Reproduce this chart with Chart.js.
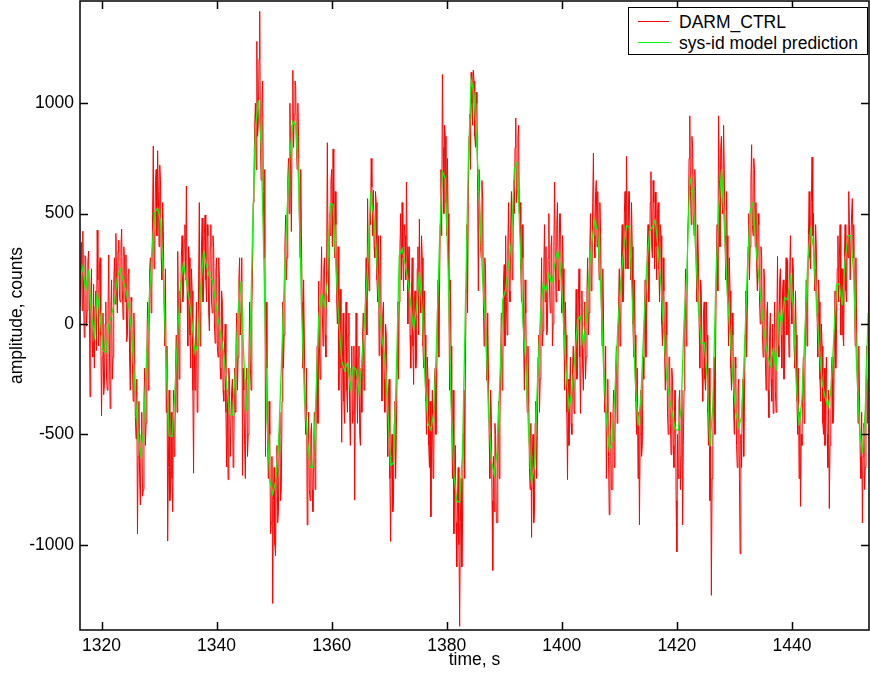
<!DOCTYPE html>
<html>
<head>
<meta charset="utf-8">
<script src="https://cdn.jsdelivr.net/npm/chart.js@4.4.1/dist/chart.umd.min.js"></script>
<style>
  html, body { margin: 0; padding: 0; background: #fff; }
  #wrap { position: relative; width: 870px; height: 679px; }
  #legend {
    position: absolute; left: 628px; top: 7px; width: 238px; height: 46px;
    border: 1.5px solid #000; background: #fff;
    font: 17.5px 'Liberation Sans', Arial, Helvetica, sans-serif; color: #000;
  }
  .item { position: absolute; left: 0; height: 20px; width: 238px; }
  .swatch { position: absolute; left: 9px; top: 9px; width: 31px; height: 0; border-top: 1.2px solid; }
  .lbl { position: absolute; left: 50px; top: 0; line-height: 20px; white-space: nowrap; }
</style>
</head>
<body>
<div id="wrap">
  <canvas id="c" width="870" height="679"></canvas>
  <div id="legend">
    <div class="item" style="top:4px"><div class="swatch" style="border-color:#ff0000"></div><div class="lbl">DARM_CTRL</div></div>
    <div class="item" style="top:25px"><div class="swatch" style="border-color:#00ff00"></div><div class="lbl">sys-id model prediction</div></div>
  </div>
</div>
<script>
// ---- data ----
const T0 = 1316.25;          // time of first sample, s
const RED_DT = 0.125;        // sample spacing of DARM_CTRL, s
const GREEN_DT = 0.5;        // sample spacing of model prediction, s

const darmCtrl = [
80,240,370,60,420,150,-60,310,300,-10,60,280,330,110,-330,120,250,-80,-150,180,
-200,80,150,-120,425,200,-100,250,300,-50,-416,-150,50,-320,-280,0,100,-250,-300,60,
313,-120,-383,80,200,-250,-150,180,300,90,410,150,50,330,380,120,100,350,430,150,
20,350,300,100,313,-80,-50,230,250,-150,-300,120,100,-200,-350,50,-100,-420,-520,-250,
-950,-600,-350,-700,-820,-500,-400,-780,-750,-350,-200,-550,-450,-150,100,-300,-100,250,300,50,
150,500,806,250,300,650,700,400,785,600,350,720,650,300,200,550,420,100,-100,250,
-400,-100,-983,-650,-300,-800,-750,-400,-700,-850,-300,-600,-550,-200,-50,-400,329,50,-250,150,
50,300,400,100,150,380,450,200,625,150,-100,350,300,-50,-200,250,150,-300,-676,-100,
-300,-50,100,-400,-350,200,550,-100,0,350,480,100,150,400,494,200,100,450,400,50,
-31,350,450,100,50,400,340,0,-87,250,300,-100,-150,300,200,-200,-250,150,100,-300,
-350,-100,0,-400,-648,-300,-705,-200,-250,-600,-600,-300,-250,-650,-550,-200,-400,-100,50,-300,
-150,200,300,-50,50,300,-686,-200,-300,-550,-700,-250,-200,-600,-500,-150,100,-200,-300,50,
250,550,650,900,1000,700,1280,850,900,1200,1416,800,650,1000,1100,600,300,700,-600,100,
-200,-550,-700,-350,-500,-950,-900,-600,-1266,-800,-650,-1000,-1050,-700,-550,-900,-850,-500,-400,-800,
-742,-350,100,-200,-50,350,494,200,300,650,750,500,1000,700,419,900,1149,800,950,1100,
1080,800,700,1000,850,500,300,700,400,100,-200,200,-50,-400,-500,-200,-910,-600,-400,-750,
-800,-500,-450,-750,-850,-550,-400,-750,-600,-250,-100,-450,194,-100,-250,150,350,50,-100,250,
300,-50,-150,250,821,300,100,500,400,650,700,350,793,450,300,600,450,100,0,350,
-300,50,157,-200,-536,-150,50,-350,-450,-100,100,-300,-400,-50,50,-400,-550,-200,-100,-450,
-400,-100,-798,-300,50,-250,-450,-150,-100,-500,-550,-200,-400,-50,50,-300,-200,150,300,-50,
568,300,150,500,450,750,620,400,606,350,300,600,550,200,100,400,-143,250,400,-100,
-349,50,100,-250,-400,0,-50,-350,-600,-300,-250,-700,-985,-600,-500,-850,-800,-450,-350,-700,
-500,-200,100,-250,100,350,500,200,550,300,150,450,400,200,643,350,0,300,350,-50,
-200,150,300,-100,-274,100,150,-200,-150,250,350,-50,475,150,50,400,300,-100,-200,150,
-50,-350,-500,-150,-250,-550,-650,-350,-873,-550,-300,-700,-600,-250,-200,-500,-300,50,200,-150,
150,450,700,400,1130,800,500,900,850,550,400,750,500,150,-300,200,-100,-450,-700,-300,
-950,-700,-550,-900,-1100,-800,-650,-1000,-1369,-900,-700,-1100,-900,-500,-300,-700,-200,150,450,50,
550,850,950,700,1140,1000,900,1150,1100,850,800,1050,999,600,150,700,700,350,300,650,
569,100,-100,300,250,-100,-255,50,-200,-500,-700,-300,-400,-800,-1116,-600,-850,-450,-500,-900,
-900,-600,-350,-700,-450,-150,50,-300,-218,200,269,-100,400,100,-50,350,550,150,100,450,
600,200,250,650,500,800,933,550,600,850,900,500,550,250,100,450,300,-100,-300,200,
50,-250,-400,-100,-300,-650,-750,-450,-967,-600,-500,-900,-850,-450,-350,-700,-500,-150,-50,-400,
-250,100,300,-100,-31,250,450,100,350,-50,-31,300,500,150,50,350,400,-100,0,350,
643,300,100,450,550,200,150,500,500,250,50,400,250,-50,-300,100,-50,-400,-705,-250,
-550,-300,-150,-450,-500,-200,-100,-400,-405,-50,157,-250,-200,100,250,-150,-405,-100,150,-200,
-300,-50,100,-250,-150,150,300,-50,50,350,500,150,200,550,774,400,300,600,650,350,
600,350,200,550,400,100,-100,250,50,-300,-400,-100,-700,-400,-250,-600,-864,-500,-400,-750,
-750,-450,-300,-650,-500,-200,-100,-450,-250,100,250,-100,0,300,450,100,150,500,600,250,
759,450,250,600,600,300,200,550,350,0,-150,200,-50,-350,-500,-200,-700,-400,-910,-500,
-300,-600,-550,-150,-250,50,200,-150,50,350,450,100,250,550,690,350,300,650,550,250,
597,350,200,500,550,250,100,450,400,0,-100,300,150,-150,-300,100,-50,-400,-500,-150,
-150,-450,-592,-200,-250,-550,-650,-300,-300,-800,-1032,-500,-700,-350,-300,-750,-600,-300,-910,-550,
-300,-50,250,-100,50,400,500,750,943,600,450,850,800,500,400,700,600,250,100,450,
300,0,-200,200,150,-200,-350,50,100,-250,-300,100,-50,-400,-550,-200,-800,-500,-1229,-700,
-550,-300,-150,-500,-100,300,450,150,943,650,350,800,850,550,500,900,700,400,200,600,
400,100,-100,300,150,-200,-300,50,-50,-400,-500,-150,-200,-550,-650,-300,-250,-700,-1041,-500,
-650,-350,-250,-600,-350,-50,150,-150,50,350,500,200,350,650,812,450,400,750,700,350,
550,250,150,500,450,100,0,350,306,-50,-150,250,200,-150,-300,50,100,-300,-424,-50,
50,-250,-350,0,-405,-100,100,-300,-400,0,306,-100,-150,200,250,-50,-200,150,200,-250,
-100,150,300,-50,290,50,-150,250,400,100,0,300,250,-100,-200,150,-50,-350,-500,-200,
-700,-400,-826,-500,-550,-250,-150,-450,-250,50,200,-100,100,400,600,300,250,550,756,400,
500,250,150,450,350,50,-150,200,100,-250,-350,0,-100,-450,-500,-200,-550,-250,-150,-500,
-650,-300,-836,-550,-500,-200,-150,-450,-400,-100,150,-200,-50,250,400,100,300,450,-50,250,
250,-50,-100,300,450,150,100,400,300,600,450,200,200,500,568,300,450,100,-100,300,
0,-250,-450,-100,-350,-600,-700,-400,-901,-600,-450,-750,-650,-300,-100,-450,-250,100,270,0
];

const sysIdPrediction = [
199,260,150,245,40,-50,145,40,-120,-130,
-5,40,100,210,250,198,150,75,-40,-265,
-470,-590,-495,-210,90,320,505,525,465,220,
-190,-505,-510,-315,-35,180,280,190,110,0,
-130,-90,170,330,262,215,200,115,25,-57,
-135,-280,-410,-412,-220,60,194,-165,-395,-160,
400,887,1012,815,250,-430,-710,-770,-715,-560,
-200,180,510,770,917,900,650,95,-315,-510,
-650,-650,-350,25,140,85,190,545,540,250,
15,-170,-210,-175,-290,-195,-205,-311,-170,30,
260,580,505,340,80,-60,-160,-380,-640,-630,
-220,310,340,275,200,90,-25,75,235,60,
-270,-450,-480,-400,-80,375,690,660,250,-360,
-680,-805,-805,-580,80,720,1105,1045,800,510,
200,0,-390,-615,-683,-580,-250,110,157,265,
375,700,735,385,0,-180,-500,-720,-640,-280,
15,180,150,225,183,265,333,270,30,-210,
-380,-305,-160,20,35,-100,20,235,380,470,
415,175,-190,-425,-570,-535,-300,-10,190,335,
445,440,110,-250,-460,-335,-20,250,420,440,
470,340,170,-45,-250,-340,-415,-480,-480,-380,
10,240,665,600,340,70,-90,-85,-235,-555,
-370,155,510,700,450,140,-40,-255,-400,-465,
-420,-125,240,515,550,350,210,70,-50,-140,
-190,-115,-210,50,5,120,110,210,75,-270,
-460,-340,-40,280,425,345,100,-110,-260,-330,
-378,-310,-80,180,180,85,290,400,400,215,
-190,-470,-585,-390,50
];

const xTickValues = [1320, 1340, 1360, 1380, 1400, 1420, 1440];
const yTickValues = [-1000, -500, 0, 500, 1000];
const xRange = [1316.26, 1453.4];
const yRange = [-1386, 1463];

// ---- build library datasets ----
const redPoints = darmCtrl.map((v, i) => ({ x: T0 + i * RED_DT, y: v }));
const greenPoints = sysIdPrediction.map((v, i) => ({ x: T0 + i * GREEN_DT, y: v }));

const FONT = { family: "'Liberation Sans', Arial, Helvetica, sans-serif", size: 17.5 };

const frameAndTicks = {
  id: 'frameAndTicks',
  afterDatasetsDraw(chart) {
    const { ctx, chartArea: a, scales: { x, y } } = chart;
    ctx.save();
    ctx.strokeStyle = '#000';
    ctx.lineWidth = 1.5;
    const L = 8;
    ctx.beginPath();
    xTickValues.forEach(v => {
      const p = Math.round(x.getPixelForValue(v)) + 0.5;
      ctx.moveTo(p, a.bottom); ctx.lineTo(p, a.bottom - L);
      ctx.moveTo(p, a.top); ctx.lineTo(p, a.top + L);
    });
    yTickValues.forEach(v => {
      const p = Math.round(y.getPixelForValue(v)) + 0.5;
      ctx.moveTo(a.left, p); ctx.lineTo(a.left + L, p);
      ctx.moveTo(a.right, p); ctx.lineTo(a.right - L, p);
    });
    ctx.stroke();
    ctx.strokeRect(a.left, a.top, a.right - a.left, a.bottom - a.top);
    ctx.restore();
  }
};

new Chart(document.getElementById('c'), {
  type: 'line',
  data: {
    datasets: [
      { label: 'DARM_CTRL', data: redPoints, borderColor: '#ff0000', borderWidth: 1,
        pointRadius: 0, tension: 0, fill: false, order: 1 },
      { label: 'sys-id model prediction', data: greenPoints, borderColor: '#00ff00', borderWidth: 1.3,
        pointRadius: 0, tension: 0, fill: false, order: 0 }
    ]
  },
  options: {
    responsive: false,
    animation: false,
    devicePixelRatio: 1,
    layout: { padding: { top: 1, right: 1, left: 0, bottom: 0 } },
    plugins: { legend: { display: false }, tooltip: { enabled: false } },
    scales: {
      x: {
        type: 'linear', min: xRange[0], max: xRange[1],
        afterBuildTicks: s => { s.ticks = xTickValues.map(v => ({ value: v })); },
        afterFit: s => { s.height = 49; s.paddingLeft = 0; s.paddingRight = 0; },
        grid: { display: false, drawTicks: false },
        border: { display: false },
        ticks: { color: '#000', font: FONT, padding: 6, maxRotation: 0, autoSkip: false,
                 callback: v => String(v) },
        title: { display: true, text: 'time, s', color: '#000', font: FONT, padding: { top: 0, bottom: 8 } }
      },
      y: {
        type: 'linear', min: yRange[0], max: yRange[1],
        afterBuildTicks: s => { s.ticks = yTickValues.map(v => ({ value: v })); },
        afterFit: s => { s.width = 80; s.paddingTop = 0; s.paddingBottom = 0; },
        grid: { display: false, drawTicks: false },
        border: { display: false },
        ticks: { color: '#000', font: FONT, padding: 6, autoSkip: false,
                 callback: v => String(v) },
        title: { display: true, text: 'amplitude, counts', color: '#000', font: FONT, padding: { top: 7, bottom: 0 } }
      }
    }
  },
  plugins: [frameAndTicks]
});
</script>
</body>
</html>
